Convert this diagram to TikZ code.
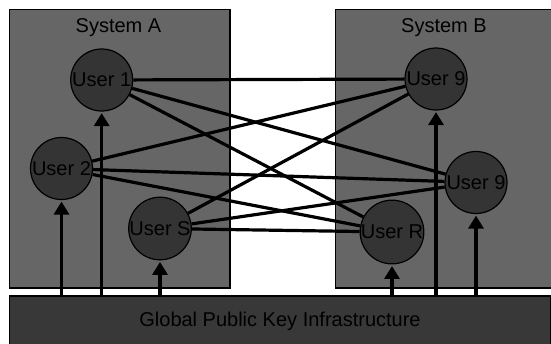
\documentclass[tikz,border=0pt]{standalone}
\usepackage{fontspec}
\setmainfont{Liberation Sans}
\usetikzlibrary{arrows.meta}
\definecolor{sysgray}{HTML}{666666}
\definecolor{usergray}{HTML}{343434}
\definecolor{bargray}{HTML}{383838}

\begin{document}
\begin{tikzpicture}[
      x=1pt, y=-1pt,
      font=\fontsize{20}{24}\selectfont, text=black,
      sys/.style={draw, fill=sysgray, line width=1.5pt},
      bar/.style={draw, fill=bargray, line width=1.5pt, outer sep=0pt, minimum width=541pt, minimum height=50pt},
      user/.style={draw, fill=usergray, circle, inner sep=0pt, minimum size=62pt, line width=1.2pt},
      link/.style={line width=3.2pt},
      ar/.style={-{Triangle[length=13pt, width=15pt]}, line width=3.5pt, shorten >=1.5pt}
    ]
    \useasboundingbox (0,0) rectangle (551,343);
    \draw[sys] (9.5,9.5) rectangle (230,288);
    \draw[sys] (335.5,9.5) rectangle (553,288);
    \node (sysA) at (118.5,27.5) {System A};
    \node (sysB) at (444,27.5) {System B};
    \node[bar] (pki) at (280,321) {Global Public Key Infrastructure};
    \node[user] (u1) at (101.7,80) {User 1};
    \node[user] (u2) at (61.5,168.5) {User 2};
    \node[user] (us) at (160,228.5) {User S};
    \node[user] (u9a) at (436,79) {User 9};
    \node[user] (u9b) at (476,182.5) {User 9};
    \node[user] (ur) at (392,232) {User R};
    \draw[link] (u1) -- (u9a); \draw[link] (u1) -- (u9b); \draw[link] (u1) -- (ur);
    \draw[link] (u2) -- (u9a); \draw[link] (u2) -- (u9b); \draw[link] (u2) -- (ur);
    \draw[link] (us) -- (u9a); \draw[link] (us) -- (u9b); \draw[link] (us) -- (ur);
    \draw[ar] (pki.north -| u2) -- (u2); \draw[ar] (pki.north -| u1) -- (u1); \draw[ar] (pki.north -| us) -- (us);
    \draw[ar] (pki.north -| ur) -- (ur); \draw[ar] (pki.north -| u9a) -- (u9a); \draw[ar] (pki.north -| u9b) -- (u9b);
  \end{tikzpicture}
\end{document}
